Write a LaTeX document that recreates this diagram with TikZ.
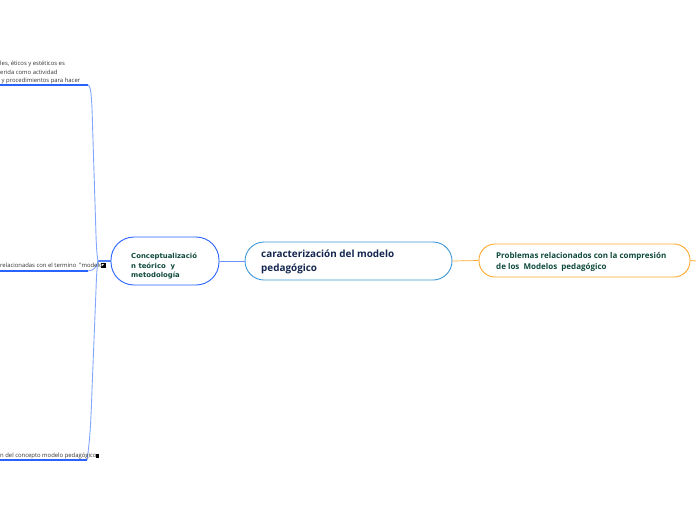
\documentclass[tikz,border=0pt]{standalone}
\usepackage{fontspec}
\setmainfont{Open Sans}
\newfontfamily\verafont{DejaVu Sans}
\definecolor{topicblue}{RGB}{41,98,255}
\definecolor{lightblue}{RGB}{130,166,255}
\definecolor{midblue}{RGB}{61,151,216}
\definecolor{toporange}{RGB}{251,169,46}
\definecolor{darkgreen}{RGB}{15,74,60}
\definecolor{darknavy}{RGB}{20,38,79}
\tikzset{
	topicbox/.style={draw, line width=0.9pt, fill=white, text=darkgreen, font=\bfseries},
	leaftext/.style={inner sep=0pt, anchor=base west, font=\fontsize{5.9}{6}\selectfont, text=black!80},
	leafline/.style={draw=topicblue, line width=1.3pt},
	stemline/.style={draw=lightblue, line width=0.9pt}
}
\begin{document}
\begin{tikzpicture}[x=1pt, y=-1pt, >=stealth]
	\useasboundingbox (0,0) rectangle (696,520);
	% 1. central boxes
	\node[topicbox, draw=midblue, minimum width=207pt, minimum height=38pt, rounded corners=19pt] (center) at (348.5,261) {};
	\node[topicbox, draw=topicblue, minimum width=108pt, minimum height=48pt, rounded corners=23pt] (concept) at (165,261) {};
	\node[topicbox, draw=toporange, minimum width=211pt, minimum height=33pt, rounded corners=16pt] (problem) at (584.5,260.5) {};
	
	% 2. box texts
	\node[anchor=west, inner sep=0pt, align=left, text=darknavy, font=\fontsize{9.9}{14}\selectfont\bfseries] (centertext) at (261,262) {caracterización del modelo\\pedagógico};
	\node[anchor=west, inner sep=0pt, align=left, text=darkgreen, font=\verafont\fontsize{6.9}{9.2}\selectfont\bfseries] (concepttext) at (131,266) {Conceptualizació\\n teórico\ \ y\\metodología};
	\node[anchor=west, inner sep=0pt, align=left, text=darkgreen, font=\fontsize{8}{11.5}\selectfont\bfseries] (problemtext) at (496,262) {Problemas relacionados con la compresión\\de los\ \ Modelos\ \ pedagógico};
	
	% 3. connectors between the boxes
	\coordinate (hub) at (98,261);
	\coordinate (rightend) at (696,261);
	\draw[draw=topicblue!70!white, line width=0.8pt] (center.west) -- (concept.east);
	\draw[draw=topicblue!80!white, line width=1.2pt] (concept.west) -- (hub);
	\draw[draw=toporange, line width=0.7pt] (center.east) -- (problem.west);
	\draw[draw=toporange, line width=0.8pt] (problem.east) -- (rightend);
	
	% 4. leaf lines on the left
	\coordinate (topleft) at (0,85);
	\coordinate (midleft) at (0,271);
	\coordinate (lowleft) at (0,460);
	\coordinate (topbend) at (88,85);
	\coordinate (midbend) at (88,271);
	\coordinate (lowbend) at (87,460);
	\draw[stemline] (topbend) .. controls (92,85) and (92,110) .. (93,140) -- (96,235) .. controls (96.5,250) and (97,255) .. (hub);
	\draw[stemline] (midbend) .. controls (94,271) and (97,266) .. (hub);
	\draw[stemline] (lowbend) .. controls (90,440) and (91,420) .. (92,390) -- (96,290) .. controls (96.5,275) and (97,267) .. (hub);
	\draw[leafline] (topleft) -- (topbend);
	\draw[leafline] (midleft) -- (midbend);
	\draw[leafline] (lowleft) -- (lowbend);
	
	% 5. leaf texts, cut off by the left edge
	\node[leaftext] (toptexta) at (0,65) {les, éticos y estéticos es};
	\node[leaftext] (toptextb) at (0,74) {erida como actividad};
	\node[leaftext] (toptextc) at (1.5,82) {y procedimientos para hacer};
	\node[leaftext] (midtext) at (0,267.5) {relacionadas con el termino\ \ "modelo"};
	\node[leaftext] (lowtext) at (0,457.5) {n del concepto modelo pedagógico};
	
	% 6. small collapse marks
	\fill[black] (100.5,263) rectangle (105.5,268);
	\fill[white] (101.5,264) -- (104,264) -- (101.5,266.5) -- cycle;
	\fill[black] (95.5,453.5) rectangle (98.5,457.5);
\end{tikzpicture}
\end{document}
